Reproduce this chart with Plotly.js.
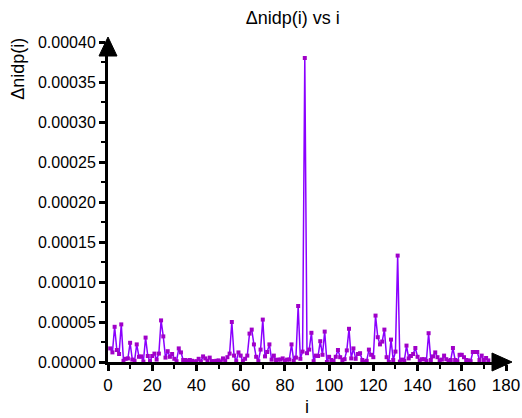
<!DOCTYPE html>
<html>
<head>
<meta charset="utf-8">
<script src="https://cdn.plot.ly/plotly-3.0.1.min.js"></script>
<style>html,body{margin:0;padding:0;background:#fff;}#chart{width:522px;height:418px;}</style>
</head>
<body>
<div id="chart"></div>
<script>
// Δnidp(i) values for i = 1 .. 172
const nidp = [
  1.7e-5, 1.2e-5, 4.4e-5, 1.5e-5, 1.0e-5, 4.7e-5, 0.15e-5, 0.4e-5, 0.45e-5, 2.4e-5,
  0.3e-5, 0.15e-5, 2.2e-5, 0.65e-5, 0.7e-5, 0.05e-5, 3.05e-5, 0.75e-5, 0.1e-5, 0.75e-5,
  1.05e-5, 0.3e-5, 1.05e-5, 5.2e-5, 3.2e-5, 0.55e-5, 1.35e-5, 0.65e-5, 1.0e-5, 0.4e-5,
  0.1e-5, 1.7e-5, 1.2e-5, 0.25e-5, 0.25e-5, 0.15e-5, 0.25e-5, 0.15e-5, 0.05e-5, 0.1e-5,
  0.4e-5, 0.05e-5, 0.7e-5, 0.45e-5, 0.15e-5, 0.55e-5, 0.1e-5, 0.1e-5, 0.15e-5, 0.2e-5,
  0.05e-5, 0.45e-5, 0.15e-5, 0.6e-5, 1.05e-5, 5.0e-5, 0.8e-5, 0.1e-5, 1.2e-5, 0.8e-5,
  0.1e-5, 0.4e-5, 0.8e-5, 3.55e-5, 4.05e-5, 2.2e-5, 0.65e-5, 0.1e-5, 1.55e-5, 5.3e-5,
  0.7e-5, 1.25e-5, 2.2e-5, 0.3e-5, 0.8e-5, 0.25e-5, 0.3e-5, 0.3e-5, 0.45e-5, 0.15e-5,
  0.3e-5, 0.3e-5, 2.2e-5, 0.15e-5, 0.55e-5, 7.0e-5, 0.4e-5, 1.3e-5, 38.0e-5, 1.1e-5,
  1.55e-5, 3.65e-5, 0.1e-5, 0.8e-5, 0.75e-5, 2.6e-5, 0.9e-5, 3.8e-5, 0.0, 0.65e-5,
  0.25e-5, 0.1e-5, 0.65e-5, 1.5e-5, 0.6e-5, 0.25e-5, 0.35e-5, 1.45e-5, 4.15e-5, 0.45e-5,
  1.7e-5, 0.4e-5, 1.0e-5, 1.1e-5, 0.25e-5, 0.05e-5, 0.15e-5, 1.55e-5, 0.9e-5, 0.6e-5,
  5.8e-5, 3.1e-5, 2.2e-5, 2.55e-5, 4.05e-5, 0.6e-5, 0.0, 2.8e-5, 0.25e-5, 1.3e-5,
  13.3e-5, 0.05e-5, 0.3e-5, 0.15e-5, 2.05e-5, 0.45e-5, 0.75e-5, 1.0e-5, 1.75e-5, 0.65e-5,
  0.15e-5, 0.35e-5, 0.35e-5, 0.15e-5, 3.6e-5, 0.25e-5, 0.7e-5, 1.2e-5, 0.6e-5, 0.2e-5,
  0.3e-5, 0.8e-5, 0.35e-5, 0.15e-5, 0.25e-5, 1.75e-5, 0.25e-5, 0.1e-5, 0.9e-5, 0.9e-5,
  0.6e-5, 0.25e-5, 0.2e-5, 0.1e-5, 1.25e-5, 1.25e-5, 1.25e-5, 0.25e-5, 0.8e-5, 0.25e-5,
  0.5e-5, 0.2e-5
];
const indexI = nidp.map((_, k) => k + 1);

const chartTitle = "\u0394nidp(i) vs i";
const xLabel = "i";
const yLabel = "\u0394nidp(i)";

const font = "Liberation Sans, Arial, sans-serif";

const trace = {
  x: indexI,
  y: nidp,
  type: "scatter",
  mode: "lines+markers",
  line: {color: "#8a00ff", width: 1.5},
  marker: {symbol: "square", size: 4, color: "#a000c8"},
  cliponaxis: false,
  hoverinfo: "x+y"
};

const layout = {
  width: 522, height: 418,
  margin: {l: 108, r: 16, t: 42, b: 56},
  paper_bgcolor: "#fff", plot_bgcolor: "#fff",
  font: {family: font, size: 16, color: "#000"},
  showlegend: false,
  title: {text: chartTitle, font: {family: font, size: 18, color: "#000"},
          xref: "container", x: 0.561, xanchor: "center",
          yref: "container", y: 0.957, yanchor: "middle"},
  xaxis: {
    range: [0, 180], dtick: 20, tick0: 0,
    showgrid: false, zeroline: false,
    showline: true, linecolor: "#000", linewidth: 3,
    ticks: "outside", ticklen: 6, tickwidth: 3, tickcolor: "#000",
    ticklabeloverflow: "allow",
    minor: {ticks: "outside", ticklen: 4, tickwidth: 2, tickcolor: "#000", dtick: 10, showgrid: false},
    tickfont: {family: font, size: 17, color: "#000"},
    fixedrange: true
  },
  yaxis: {
    range: [0, 0.0004], dtick: 0.00005, tick0: 0,
    tickformat: ".5f",
    showgrid: false, zeroline: false,
    showline: true, linecolor: "#000", linewidth: 3,
    ticks: "outside", ticklen: 6, tickwidth: 3, tickcolor: "#000",
    minor: {ticks: "outside", ticklen: 4, tickwidth: 2, tickcolor: "#000", dtick: 0.000025, showgrid: false},
    tickfont: {family: font, size: 16, color: "#000"},
    fixedrange: true
  },
  annotations: [
    {text: yLabel, xref: "paper", yref: "paper", x: -0.228, y: 0.917,
     xanchor: "center", yanchor: "middle", textangle: -90, showarrow: false,
     font: {family: font, size: 18, color: "#000"}},
    {text: xLabel, xref: "paper", yref: "paper", x: 0.5, y: -0.14,
     xanchor: "center", yanchor: "middle", showarrow: false,
     font: {family: font, size: 18, color: "#000"}}
  ],
  shapes: [
    {type: "path", xref: "paper", yref: "paper", xsizemode: "pixel", ysizemode: "pixel",
     xanchor: 1, yanchor: 0, path: "M 6 0 L -14 9 L -14 -9 Z",
     fillcolor: "#000", line: {color: "#000", width: 1}},
    {type: "path", xref: "paper", yref: "paper", xsizemode: "pixel", ysizemode: "pixel",
     xanchor: 0, yanchor: 1, path: "M 0 5 L -9 -14 L 9 -14 Z",
     fillcolor: "#000", line: {color: "#000", width: 1}}
  ]
};

Plotly.newPlot("chart", [trace], layout, {displayModeBar: false, staticPlot: true});
</script>
</body>
</html>
